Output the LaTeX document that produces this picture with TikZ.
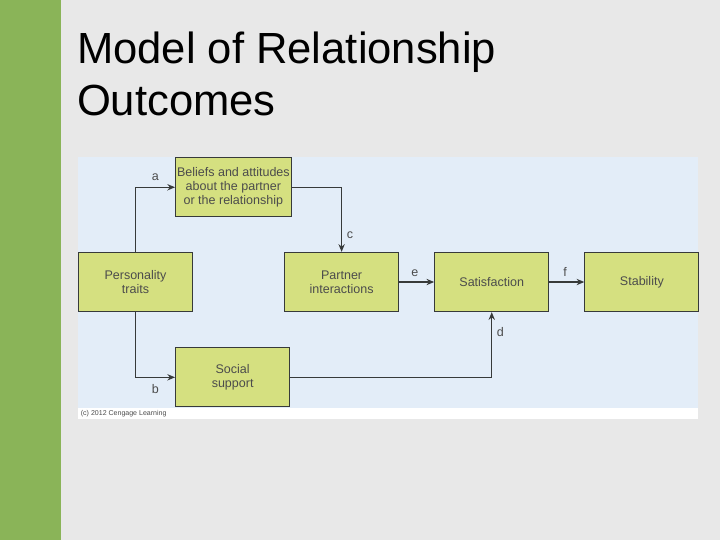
\documentclass[tikz,border=0pt]{standalone}
\usepackage{fontspec}
\setmainfont{Liberation Sans}
\usepackage{tikz}
\usetikzlibrary{positioning, arrows.meta, calc}

\definecolor{slidegreen}{RGB}{138,180,88}
\definecolor{slidegrey}{RGB}{232,232,232}
\definecolor{panelblue}{RGB}{227,237,248}
\definecolor{boxgreen}{RGB}{213,224,128}
\definecolor{linegrey}{RGB}{55,58,58}

\begin{document}
\begin{tikzpicture}[
    box/.style={draw=linegrey, line width=0.8pt, fill=boxgreen, rectangle, minimum width=2.85cm, minimum height=1.48cm, align=center, inner sep=1pt, text=black!70, font=\fontsize{8.9}{9.8}\selectfont},
    link/.style={draw=linegrey, line width=0.8pt, -{Stealth[length=5.5pt, width=4.5pt]}},
    letter/.style={text=black!70, font=\fontsize{8.9}{9.6}\selectfont}
]

% Hintergrund
\useasboundingbox (0,0) rectangle (18,-13.5);
\fill[slidegrey] (0,0) rectangle (18,-13.5);
\fill[slidegreen] (0,0) rectangle (1.525,-13.5);
\fill[panelblue] (1.95,-3.925) rectangle (17.45,-10.2);
\fill[white] (1.95,-10.2) rectangle (17.45,-10.475);

\node[anchor=north west, align=left, inner sep=0pt, font=\fontsize{31}{37}\selectfont] (title) at (1.92,-0.78) {Model of Relationship\\Outcomes};
\node[anchor=west, inner sep=1pt, text=black!70, font=\fontsize{5}{6}\selectfont] (credit) at (1.98,-10.34) {(c) 2012 Cengage Learning};

% Knoten
\node[box] (traits) at (3.3875,-7.05) {Personality\\traits};
\node[box, right=2.275cm of traits] (inter) {Partner\\interactions};
\node[box, right=0.875cm of inter] (satis) {Satisfaction};
\node[box, right=0.875cm of satis] (stab) {Stability};
\node[box, above right=0.86cm and -0.45cm of traits] (beliefs) {Beliefs and attitudes\\about the partner\\or the relationship};
\node[box, below right=0.875cm and -0.45cm of traits] (social) {Social\\support};

% Kanten zwischen Knoten
\draw[link] (traits.north) |- (beliefs.west) node[pos=0.75, above=1pt, letter] {a};
\draw[link] (traits.south) |- (social.west) node[pos=0.75, below=1pt, letter] {b};
\draw[link] (beliefs.east) -| (inter.north) node[pos=0.87, right, letter] {c};
\draw[link] (social.east) -| (satis.south) node[pos=0.85, right, letter] {d};
\draw[link] (inter) -- (satis) node[pos=0.45, above, letter] {e};
\draw[link] (satis) -- (stab) node[pos=0.45, above, letter] {f};

\end{tikzpicture}
\end{document}
